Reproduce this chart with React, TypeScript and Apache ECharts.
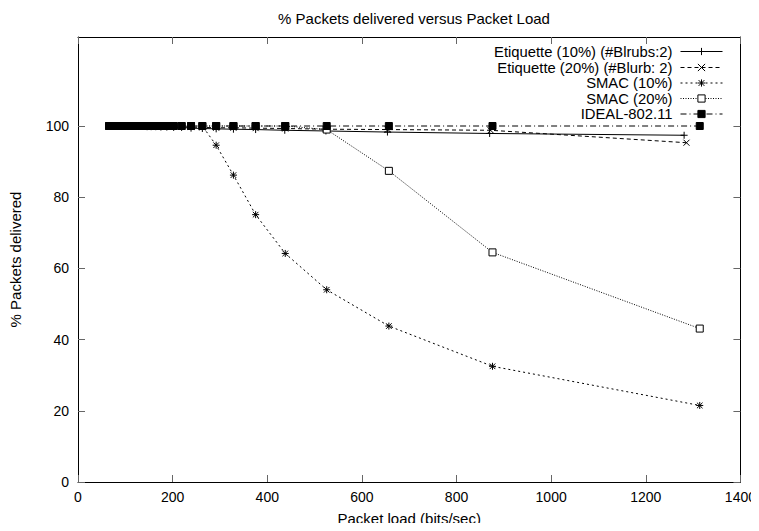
import React, { useEffect, useRef } from "react";
import * as echarts from "echarts";

const loads = [65.7, 67.4, 69.2, 71.0, 73.0, 75.1, 77.3, 79.6, 82.1, 84.8, 87.6, 90.6, 93.9, 97.3, 101.1, 105.1, 109.5, 114.3, 119.5, 125.1, 131.4, 138.3, 146.0, 154.6, 164.3, 175.2, 187.7, 202.2, 219.0, 238.9, 262.8, 292.0, 328.5, 375.4, 438.0, 525.6, 657.0, 876.0, 1314.0];
const loadsEtq10 = [65.7, 67.4, 69.2, 71.0, 73.0, 75.1, 77.3, 79.6, 82.1, 84.8, 87.6, 90.6, 93.9, 97.3, 101.1, 105.1, 109.5, 114.3, 119.5, 125.1, 131.4, 138.3, 146.0, 154.6, 164.3, 175.2, 187.7, 202.2, 219.0, 238.9, 262.8, 292.0, 328.5, 375.4, 437.0, 524.0, 654.0, 870.0, 1281.0];
const loadsEtq20 = [65.7, 67.4, 69.2, 71.0, 73.0, 75.1, 77.3, 79.6, 82.1, 84.8, 87.6, 90.6, 93.9, 97.3, 101.1, 105.1, 109.5, 114.3, 119.5, 125.1, 131.4, 138.3, 146.0, 154.6, 164.3, 175.2, 187.7, 202.2, 219.0, 238.9, 262.8, 292.0, 328.5, 375.4, 438.0, 525.0, 655.0, 872.0, 1286.0];

const etq10 = [100, 100, 100, 100, 100, 100, 100, 100, 100, 100, 100, 100, 100, 100, 100, 100, 100, 100, 100, 99.9, 99.9, 99.9, 99.8, 99.8, 99.8, 99.7, 99.7, 99.6, 99.6, 99.4, 99.3, 99.2, 99.1, 99.0, 98.8, 98.6, 98.3, 97.9, 97.4];
const etq20 = [100, 100, 100, 100, 100, 100, 100, 100, 100, 100, 100, 100, 100, 100, 100, 100, 100, 100, 100, 100, 100, 99.9, 99.9, 99.9, 99.9, 99.8, 99.8, 99.8, 99.8, 99.7, 99.6, 99.5, 99.5, 99.4, 99.3, 99.1, 99.0, 98.8, 95.3];
const smac10 = [100, 100, 100, 100, 100, 100, 100, 100, 100, 100, 100, 100, 100, 100, 100, 100, 100, 100, 100, 100, 100, 100, 100, 100, 100, 100, 100, 100, 100, 100, 100, 94.6, 86.2, 75.1, 64.2, 54.0, 43.8, 32.5, 21.5];
const smac20 = [100, 100, 100, 100, 100, 100, 100, 100, 100, 100, 100, 100, 100, 100, 100, 100, 100, 100, 100, 100, 100, 100, 100, 100, 100, 100, 100, 100, 100, 100, 100, 100, 100, 100, 100, 99.0, 87.4, 64.5, 43.1];
const ideal = [100, 100, 100, 100, 100, 100, 100, 100, 100, 100, 100, 100, 100, 100, 100, 100, 100, 100, 100, 100, 100, 100, 100, 100, 100, 100, 100, 100, 100, 100, 100, 100, 100, 100, 100, 100, 100, 100, 100];

const seriesNames = ["Etiquette (10%) (#Blrubs:2)", "Etiquette (20%) (#Blurb: 2)", "SMAC (10%)", "SMAC (20%)", "IDEAL-802.11"];
const yTicks = [0, 20, 40, 60, 80, 100];

const FONT = "Liberation Sans, Arial, sans-serif";

const zip = (xs: number[], ys: number[]) => xs.map((x, i) => [x, ys[i]]);

export default function App() {
  const ref = useRef<HTMLDivElement>(null);
  useEffect(() => {
    if (!ref.current) return;
    const chart = echarts.init(ref.current, undefined, { renderer: "svg" });
    const black = "#000";
    const mk = (
      name: string,
      data: number[][],
      symbol: string,
      size: number,
      lineType: any,
      fill: string
    ) => ({
      name,
      type: "line",
      data,
      symbol,
      symbolSize: size,
      showSymbol: true,
      lineStyle: { color: black, width: 1, type: lineType },
      itemStyle: { color: fill, borderColor: black, borderWidth: 1 },
      emphasis: { disabled: true },
      z: 2,
    });
    const legendTops = [44, 60, 75.5, 91, 106.5];
    const legends = seriesNames.map((n, i) => ({
      data: [n],
      right: 36,
      top: legendTops[i],
      align: "right",
      itemWidth: 42,
      itemHeight: 9,
      itemGap: 0,
      padding: 0,
      selectedMode: false,
      lineStyle: { width: 1 },
      itemStyle: { borderWidth: 1 },
      textStyle: { fontFamily: FONT, fontSize: 14.8, color: "#000", padding: [0, 3, 0, 0] },
    }));
    chart.setOption({
      animation: false,
      backgroundColor: "#fff",
      title: {
        text: "% Packets delivered versus Packet Load",
        left: 409,
        textAlign: "center",
        top: 6,
        textStyle: { fontFamily: FONT, fontSize: 15, fontWeight: "normal", color: "#000" },
      },
      legend: legends,
      grid: { left: 76, right: 16.5, top: 37, bottom: 45.5, containLabel: false },
      xAxis: [
        {
          type: "value",
          min: 0,
          max: 1400,
          interval: 200,
          position: "bottom",
          name: "Packet load (bits/sec)",
          nameLocation: "middle",
          nameGap: 29,
          nameTextStyle: { fontFamily: FONT, fontSize: 15, color: "#000" },
          axisLine: { show: true, onZero: false, lineStyle: { color: black, width: 1 } },
          axisTick: { show: true, inside: true, length: 7, lineStyle: { color: "#666" } },
          axisLabel: { fontFamily: FONT, fontSize: 14, color: "#000", margin: 8, formatter: (v: number) => String(v) },
          splitLine: { show: false },
        },
        {
          type: "value",
          min: 0,
          max: 1400,
          interval: 200,
          position: "top",
          axisLine: { show: true, onZero: false, lineStyle: { color: black, width: 1 } },
          axisTick: { show: true, inside: true, length: 7, lineStyle: { color: "#666" } },
          axisLabel: { show: false },
          splitLine: { show: false },
        },
      ],
      yAxis: [
        {
          type: "value",
          min: 0,
          max: 125,
          position: "left",
          name: "% Packets delivered",
          nameLocation: "middle",
          nameGap: 55,
          nameTextStyle: { fontFamily: FONT, fontSize: 15, color: "#000" },
          axisLine: { show: true, onZero: false, lineStyle: { color: black, width: 1 } },
          axisTick: { show: true, inside: true, length: 7, customValues: yTicks, lineStyle: { color: "#666" } },
          axisLabel: { fontFamily: FONT, fontSize: 14, color: "#000", margin: 9, customValues: yTicks },
          splitLine: { show: false },
        },
        {
          type: "value",
          min: 0,
          max: 125,
          position: "right",
          axisLine: { show: true, onZero: false, lineStyle: { color: black, width: 1 } },
          axisTick: { show: true, inside: true, length: 7, customValues: yTicks, lineStyle: { color: "#666" } },
          axisLabel: { show: false, customValues: yTicks },
          splitLine: { show: false },
        },
      ],
      series: [
        mk(seriesNames[0], zip(loadsEtq10, etq10), "path://M0,5L10,5M5,0L5,10", 7, "solid", black),
        mk(seriesNames[1], zip(loadsEtq20, etq20), "path://M0,0L10,10M10,0L0,10", 6, [4, 3], black),
        mk(seriesNames[2], zip(loads, smac10), "path://M0,5L10,5M5,0L5,10M1,1L9,9M9,1L1,9", 7, [2, 3], black),
        mk(seriesNames[3], zip(loads, smac20), "rect", 7, [1, 1.5], "#fff"),
        mk(seriesNames[4], zip(loads, ideal), "rect", 7, [6, 3, 1, 3], black),
      ],
    });
    return () => chart.dispose();
  }, []);
  return <div ref={ref} style={{ width: 759, height: 531, margin: -8 }} />;
}
